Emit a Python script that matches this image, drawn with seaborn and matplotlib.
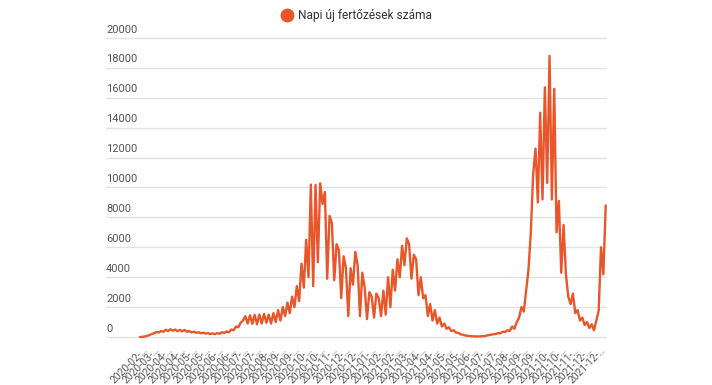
import numpy as np
import pandas as pd
import matplotlib
matplotlib.use('Agg')
import matplotlib.pyplot as plt
import matplotlib.transforms as mtransforms
from matplotlib.lines import Line2D
import seaborn as sns

# Daily new infections (about two points per week)
cases = [
    0, 10, 30, 70, 130, 200, 250, 330, 300, 400,
    350, 480, 400, 520, 420, 500, 390, 480, 380, 470,
    350, 400, 310, 360, 280, 320, 250, 290, 230, 260,
    200, 240, 190, 260, 220, 320, 270, 370, 310, 500,
    450, 700, 650, 950, 1100, 1400, 900, 1450, 880, 1480,
    850, 1500, 900, 1550, 950, 1500, 900, 1600, 1000, 1800,
    1100, 2000, 1400, 2300, 1600, 2700, 2000, 3400, 2400, 4900,
    3300, 6500, 4000, 10200, 3400, 10170, 5000, 10280, 8900, 9700,
    3900, 8100, 7600, 3800, 6200, 5800, 2600, 5400, 4600, 1400,
    4600, 3500, 5700, 4800, 1400, 4300, 3300, 1200, 3000, 2700,
    1300, 2900, 2600, 1400, 3100, 1500, 4000, 2000, 4500, 3100,
    5200, 4000, 6100, 4800, 6600, 6200, 3900, 5500, 5200, 2800,
    4000, 2600, 2800, 1400, 2200, 1100, 1800, 900, 1300, 700,
    900, 550, 650, 400, 450, 300, 280, 180, 150, 100,
    80, 60, 50, 40, 40, 40, 50, 60, 90, 130,
    150, 190, 200, 260, 250, 350, 330, 450, 400, 700,
    550, 1000, 1300, 2000, 1700, 3100, 4500, 7000, 10900, 12600,
    9000, 15000, 9200, 16700, 10300, 18800, 9200, 16600, 7000, 9100,
    4300, 7500, 4200, 2700, 2200, 2900, 1600, 1800, 1100, 1300,
    800, 1000, 600, 850, 450, 1100, 1750, 6000, 4200, 8800,
]

x_labels = [
    '2020-02-…', '2020-03-…', '2020-04-…', '2020-04-…', '2020-05-…',
    '2020-05-…', '2020-06-…', '2020-06-…', '2020-07-…', '2020-07-…',
    '2020-08-…', '2020-09-…', '2020-09-…', '2020-10-…', '2020-10-…',
    '2020-11-…', '2020-12-…', '2020-12-…', '2021-01-…', '2021-02-…',
    '2021-02-…', '2021-03-…', '2021-04-…', '2021-04-…', '2021-05-…',
    '2021-05-…', '2021-06-…', '2021-07-…', '2021-07-…', '2021-08-…',
    '2021-09-…', '2021-09-…', '2021-10-…', '2021-10-…', '2021-11-…',
    '2021-12-…', '2021-12-…',
]

y_ticks = [0, 2000, 4000, 6000, 8000, 10000, 12000, 14000, 16000, 18000, 20000]
series_name = 'Napi új fertőzések száma'

LINE_COLOR = '#e8562a'
TEXT_COLOR = '#555555'
GRID_COLOR = '#e2e2e2'

sns.set_theme(style='white')
plt.rcParams['font.family'] = ['Roboto', 'DejaVu Sans']

df = pd.DataFrame({'idx': np.arange(len(cases)), 'cases': cases})

W, H = 712, 385
fig = plt.figure(figsize=(W / 100, H / 100), dpi=100)
# axes box in pixels: x 106..607, y 38..337 (plus a small margin)
pad_px = 1.5
ax = fig.add_axes([106 / W, (H - 337 - pad_px) / H, (607 - 106) / W, (299 + 2 * pad_px) / H])

sns.lineplot(data=df, x='idx', y='cases', ax=ax, color=LINE_COLOR, linewidth=1.7)

px_per_step = 2.34
ax.set_xlim(-(140 - 106) / px_per_step, len(cases) - 1 + (607 - 605.7) / px_per_step)
val_pad = pad_px * 20000 / 299
ax.set_ylim(-val_pad, 20000 + val_pad)

for s in ax.spines.values():
    s.set_visible(False)

# horizontal gridlines, labels sit above each line at the left
ax.set_yticks(y_ticks)
ax.set_yticklabels([])
ax.tick_params(axis='y', length=0)
ax.grid(axis='y', color=GRID_COLOR, linewidth=1)
ax.grid(axis='x', visible=False)
trans = mtransforms.blended_transform_factory(ax.transAxes, ax.transData)
for v in y_ticks:
    ax.annotate(str(v), xy=(0, v), xycoords=trans, xytext=(0, 2.5),
                textcoords='offset points', ha='left', va='bottom',
                fontsize=8, color=TEXT_COLOR)

# rotated category labels
tick_pos = np.linspace(0.85, 196.5, len(x_labels))
ax.set_xticks(tick_pos)
ax.set_xticklabels(x_labels, rotation=45, ha='right', rotation_mode='anchor',
                   fontsize=7.4, color=TEXT_COLOR)
ax.tick_params(axis='x', length=0, pad=4.5)
ax.set_xlabel('')
ax.set_ylabel('')

handle = Line2D([0], [0], marker='o', linestyle='none', color=LINE_COLOR, markersize=9)
fig.legend([handle], [series_name], loc='center', bbox_to_anchor=(0.5, 1 - 16 / H),
           frameon=False, fontsize=8.6, handletextpad=0.3, handlelength=1.2,
           labelcolor='#333333')

fig.savefig('out.png', dpi=100)
